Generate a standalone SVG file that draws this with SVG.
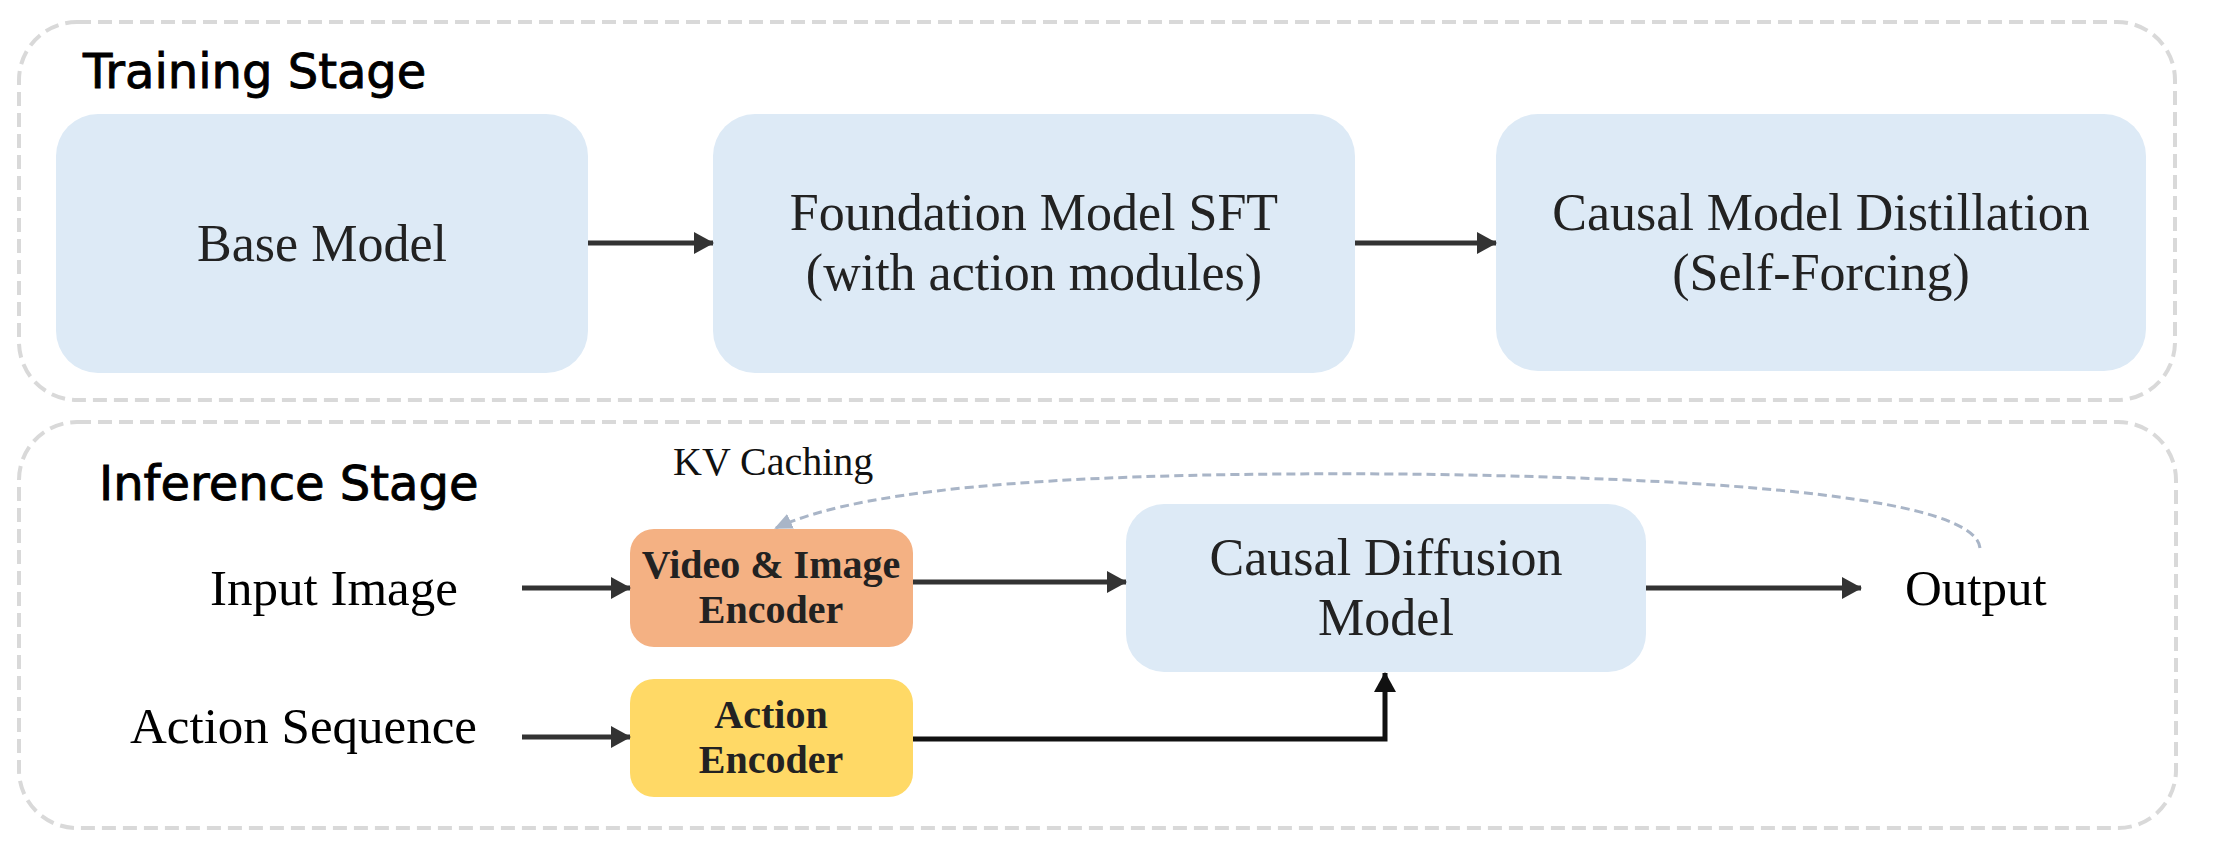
<svg xmlns="http://www.w3.org/2000/svg" width="2214" height="848" viewBox="0 0 2214 848">
<style>
.stage{fill:none;stroke:#d9d9d9;stroke-width:4;stroke-dasharray:14 7}
.blue{fill:#ddeaf6}
.title{font-family:"DejaVu Sans",sans-serif;font-size:48px;fill:#000;stroke:#000;stroke-width:0.9}
.lbl{font-family:"Liberation Serif",serif;font-size:52px;fill:#222}
.io{font-family:"Liberation Serif",serif;font-size:51px;fill:#000}
.enc{font-family:"Liberation Serif",serif;font-size:40px;font-weight:bold;fill:#222}
.kv{font-family:"Liberation Serif",serif;font-size:40px;fill:#111}
.arr{stroke:#333;stroke-width:5;fill:none}
</style>
<defs>
<marker id="ah" markerUnits="userSpaceOnUse" markerWidth="20" markerHeight="22" refX="19" refY="11" orient="auto"><path d="M0,0 L20,11 L0,22 z" fill="#333"/></marker>
<marker id="ahk" markerUnits="userSpaceOnUse" markerWidth="20" markerHeight="22" refX="19" refY="11" orient="auto"><path d="M0,0 L20,11 L0,22 z" fill="#111"/></marker>
<marker id="ahd" markerUnits="userSpaceOnUse" markerWidth="18" markerHeight="16" refX="16" refY="8" orient="auto"><path d="M0,0 L18,8 L0,16 z" fill="#a9b5c7"/></marker>
</defs>
<g id="training-stage">
<rect class="stage" x="19" y="22" width="2156" height="378" rx="58"/>
<text class="title" x="83" y="88">Training Stage</text>
</g>
<g id="inference-stage">
<rect class="stage" x="19" y="422" width="2157" height="406" rx="58"/>
<text class="title" x="99" y="500">Inference Stage</text>
</g>
<g id="base-model">
<rect class="blue" x="56" y="114" width="532" height="259" rx="42"/>
<text class="lbl" x="322" y="261" text-anchor="middle">Base Model</text>
</g>
<g id="foundation-sft">
<rect class="blue" x="713" y="114" width="642" height="259" rx="42"/>
<text class="lbl" x="1034" y="230" text-anchor="middle">Foundation Model SFT</text>
<text class="lbl" x="1034" y="290" text-anchor="middle">(with action modules)</text>
</g>
<g id="causal-distillation">
<rect class="blue" x="1496" y="114" width="650" height="257" rx="42"/>
<text class="lbl" x="1821" y="230" text-anchor="middle">Causal Model Distillation</text>
<text class="lbl" x="1821" y="290" text-anchor="middle">(Self-Forcing)</text>
</g>
<g id="input-image"><text class="io" x="210" y="605">Input Image</text></g>
<g id="action-sequence"><text class="io" x="130" y="743">Action Sequence</text></g>
<g id="video-image-encoder">
<rect x="630" y="529" width="283" height="118" rx="24" fill="#f4b183"/>
<text class="enc" x="771" y="578" text-anchor="middle">Video &amp; Image</text>
<text class="enc" x="771" y="623" text-anchor="middle">Encoder</text>
</g>
<g id="action-encoder">
<rect x="630" y="679" width="283" height="118" rx="24" fill="#ffd966"/>
<text class="enc" x="771" y="728" text-anchor="middle">Action</text>
<text class="enc" x="771" y="773" text-anchor="middle">Encoder</text>
</g>
<g id="causal-diffusion">
<rect class="blue" x="1126" y="504" width="520" height="168" rx="38"/>
<text class="lbl" x="1386" y="575" text-anchor="middle">Causal Diffusion</text>
<text class="lbl" x="1386" y="635" text-anchor="middle">Model</text>
</g>
<g id="output"><text class="io" x="1905" y="605">Output</text></g>
<g id="kv-label"><text class="kv" x="673" y="475">KV Caching</text></g>
<g id="connectors">
<line class="arr" x1="588" y1="243" x2="713" y2="243" marker-end="url(#ah)"/>
<line class="arr" x1="1355" y1="243" x2="1496" y2="243" marker-end="url(#ah)"/>
<line class="arr" x1="522" y1="588" x2="630" y2="588" marker-end="url(#ah)"/>
<line class="arr" x1="522" y1="737" x2="630" y2="737" marker-end="url(#ah)"/>
<line class="arr" x1="913" y1="582" x2="1126" y2="582" marker-end="url(#ah)"/>
<path d="M913 739 H1385 V673" stroke="#111" stroke-width="5" fill="none" marker-end="url(#ahk)"/>
<line class="arr" x1="1646" y1="588" x2="1861" y2="588" marker-end="url(#ah)"/>
<path d="M1980 548 C1975 500 1750 478 1400 474 C1100 472 870 484 776 528" stroke="#a9b5c7" stroke-width="3" stroke-dasharray="9 5" fill="none" marker-end="url(#ahd)"/>
</g>
</svg>
